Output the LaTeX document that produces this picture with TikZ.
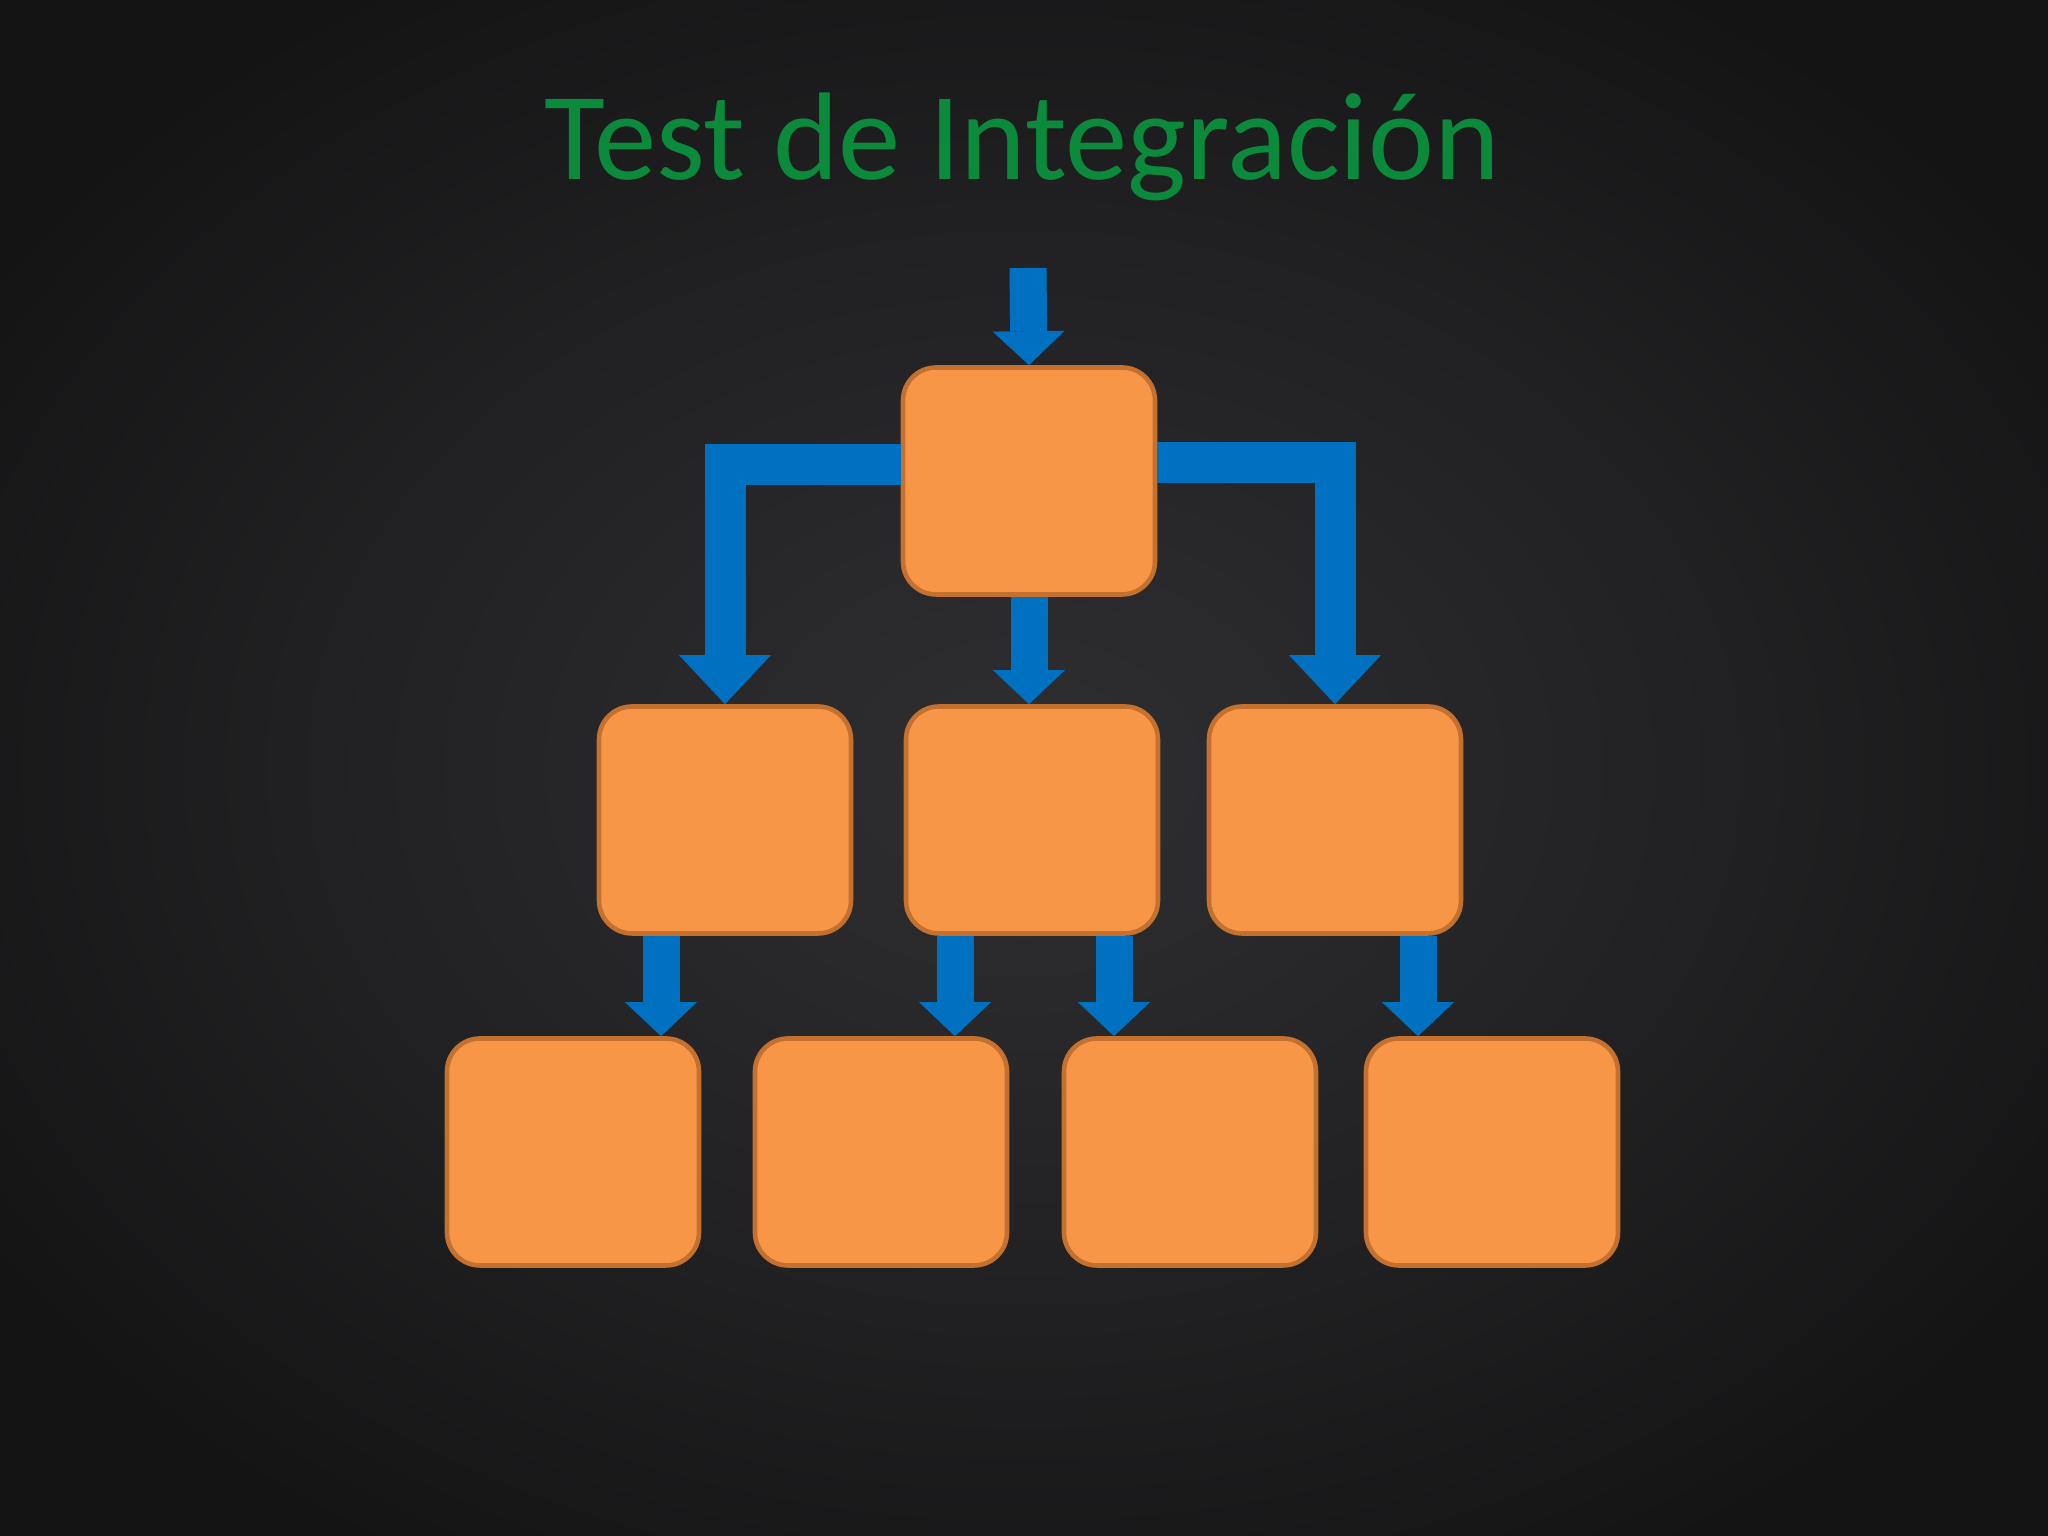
\documentclass[tikz,border=0pt]{standalone}
\usepackage{fontspec}
\setmainfont{Carlito}
\usepackage{tikz}
\usetikzlibrary{arrows.meta}
\usetikzlibrary{positioning}

\definecolor{fondo}{RGB}{20,20,21}
\definecolor{fondom}{RGB}{34,34,36}
\definecolor{fondoc}{RGB}{47,47,49}
\definecolor{verde}{RGB}{11,138,60}
\definecolor{naranja}{RGB}{247,150,70}
\definecolor{bordecaja}{RGB}{196,112,46}
\definecolor{azul}{RGB}{0,112,192}
\pgfdeclareradialshading{fondoradial}{\pgfpoint{0bp}{0bp}}{color(0bp)=(fondoc); color(16bp)=(fondom); color(30bp)=(fondo); color(50bp)=(fondo)}

\begin{document}
\begin{tikzpicture}[
    bloque/.style={draw=bordecaja, fill=naranja, line width=1.3pt, rounded corners=0.33cm,
        minimum width=2.52cm, minimum height=2.27cm, inner sep=0pt},
    flecha/.style={azul, line width=0.37cm, -{Triangle[width=0.72cm,length=0.34cm,line width=0pt]}},
    flechaL/.style={azul, line width=0.41cm, line join=miter, -{Triangle[width=0.92cm,length=0.49cm,line width=0pt]}},
    titulo/.style={text=verde, font=\fontsize{35.5}{42}\selectfont}]
            \shade[shading=fondoradial] (0,0) rectangle (20.48,15.36);
            \useasboundingbox (0,0) rectangle (20.48,15.36);

            \node[titulo, anchor=base] (tit) at (10.22,13.56) {Test de Integración};

            \node[bloque] (raiz) at (10.29,10.55) {};
            \foreach \x [count=\i] in {7.25,10.32,13.35}
            \node[bloque] (m\i) at (\x,7.16) {};
            \foreach \x [count=\i] in {5.73,8.81,11.90,14.92}
            \node[bloque] (h\i) at (\x,3.84) {};

            \coordinate (entrada) at (10.28,12.68);
            \draw[flecha] (entrada) -- (raiz.north);
            \draw[flecha] (raiz.south) -- (raiz.south |- m2.north);
            \draw[flechaL] ([yshift=0.16cm]raiz.west) -| (m1.north);
            \draw[flechaL] ([yshift=0.18cm]raiz.east) -| (m3.north);

            \draw[flecha] ([xshift=-0.64cm]m1.south) -- ([xshift=-0.64cm]m1.south |- h1.north);
            \draw[flecha] ([xshift=-0.77cm]m2.south) -- ([xshift=-0.77cm]m2.south |- h2.north);
            \draw[flecha] ([xshift=0.82cm]m2.south) -- ([xshift=0.82cm]m2.south |- h3.north);
            \draw[flecha] ([xshift=0.83cm]m3.south) -- ([xshift=0.83cm]m3.south |- h4.north);
\end{tikzpicture}
\end{document}
